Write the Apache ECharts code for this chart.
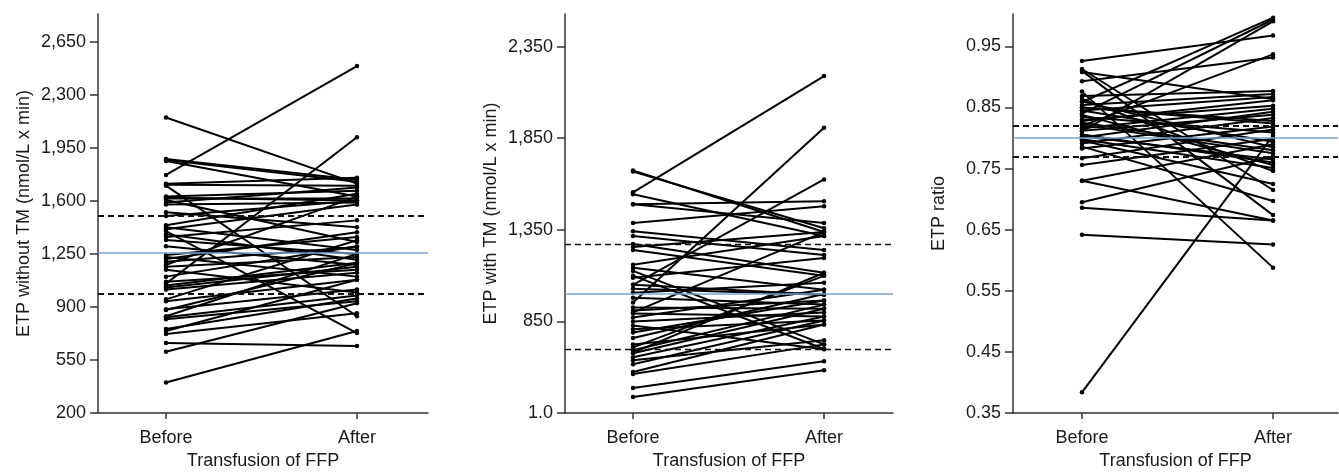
<!DOCTYPE html>
<html>
<head>
<meta charset="utf-8">
<script src="https://cdn.jsdelivr.net/npm/echarts@6/dist/echarts.min.js"></script>
<style>
html,body{margin:0;padding:0;background:#fff;}
#chart{width:1339px;height:475px;}
</style>
</head>
<body>
<div id="chart"></div>
<script>
// ---- Data ----
const xCategories = ['Before', 'After'];
const xTitle = 'Transfusion of FFP';

// Panel 1: ETP without TM
const p1Name = 'ETP without TM (nmol/L x min)';
const p1Ticks = [200, 550, 900, 1250, 1600, 1950, 2300, 2650];
const p1Before = [2149,1876,1869,1863,1771,1713,1706,1628,1621,1615,1606,1589,1576,1524,1439,1426,1413,1380,1361,1341,1243,1230,1217,1198,1178,1165,1145,1067,1054,1041,1028,1015,937,885,839,832,819,754,741,722,663,604,402,1400,1300,1100,950,880,1500,1700];
const p1After  = [1713,1739,1726,1628,2489,1752,1700,1667,1602,1615,1328,1687,1589,1426,1647,1276,1576,1211,1471,1250,1361,1100,1393,1295,1628,1230,995,1145,2019,1191,1165,1126,1080,1015,1250,976,937,956,1080,859,643,924,741,728,1176,1300,1340,1190,1600,839];
const p1Ref = {mean: 1255, low: 985, high: 1500};

// Panel 2: ETP with TM
const p2Name = 'ETP with TM (nmol/L x min)';
const p2Ticks = [350, 850, 1350, 1850, 2350];
const p2Before = [1674,1668,1555,1544,1490,1490,1387,1343,1316,1273,1257,1240,1159,1143,1126,1088,1050,1029,1007,980,953,926,910,893,872,850,828,807,790,725,709,693,677,655,639,617,574,563,487,438,1100,1050,900,760,680];
const p2After  = [1338,1359,2189,1316,1506,1387,1479,1240,1213,1116,1338,1099,1316,1023,725,1197,1625,996,1061,942,1907,920,964,877,1023,899,698,855,964,834,1099,942,920,877,747,855,834,725,633,584,700,996,1338,1000,1116];
const p2Ref = {mean: 1000, low: 699, high: 1274};

// Panel 3: ETP ratio
const p3Name = 'ETP ratio';
const p3Ticks = [0.35, 0.45, 0.55, 0.65, 0.75, 0.85, 0.95];
const p3Before = [0.926,0.913,0.910,0.908,0.893,0.876,0.869,0.864,0.859,0.854,0.850,0.845,0.840,0.835,0.830,0.825,0.820,0.816,0.811,0.806,0.801,0.796,0.791,0.786,0.783,0.767,0.756,0.730,0.730,0.695,0.686,0.642,0.384,0.845,0.838,0.822,0.812,0.803,0.798,0.850,0.860,0.828];
const p3After  = [0.968,0.715,0.674,0.864,0.932,0.588,0.877,0.746,0.997,0.872,0.828,0.867,0.994,0.809,0.853,0.780,0.937,0.848,0.991,0.760,0.843,0.725,0.833,0.697,0.819,0.814,0.799,0.790,0.665,0.770,0.665,0.626,0.804,0.794,0.756,0.775,0.838,0.765,0.751,0.824,0.785,0.862];
const p3Ref = {mean: 0.801, low: 0.772, high: 0.824};

// ---- Build ----
const FONT = '"Liberation Sans", Arial, sans-serif';
const TXT = '#1a1a1a';
const AX = '#333';

const panels = [
  {name: p1Name, ticks: p1Ticks, before: p1Before, after: p1After, ref: p1Ref,
   left: 98, width: 330, xmin: -0.356, xmax: 1.372, ymin: 200, ymax: 2832, dashW: 2.2,
   fmt: v => v.toLocaleString('en-US')},
  {name: p2Name, ticks: p2Ticks, before: p2Before, after: p2After, ref: p2Ref,
   left: 565, width: 328, xmin: -0.356, xmax: 1.361, ymin: 350, ymax: 2528, dashW: 1.4,
   fmt: v => v === 350 ? '1.0' : v.toLocaleString('en-US')},
  {name: p3Name, ticks: p3Ticks, before: p3Before, after: p3After, ref: p3Ref,
   left: 1013, width: 325, xmin: -0.361, xmax: 1.340, ymin: 0.35, ymax: 1.003, dashW: 2.2,
   fmt: v => v.toFixed(2)}
];

const grid = [], xAxis = [], yAxis = [], series = [];
panels.forEach((p, i) => {
  grid.push({left: p.left, top: 14, width: p.width, height: 405, containLabel: false});
  xAxis.push({
    type: 'value', gridIndex: i, min: p.xmin, max: p.xmax,
    name: xTitle, nameLocation: 'middle', nameGap: 38,
    nameTextStyle: {fontFamily: FONT, fontSize: 18, color: TXT},
    axisLine: {show: true, onZero: false, lineStyle: {color: AX, width: 1.5}},
    axisTick: {show: true, customValues: [0, 1], length: 6, lineStyle: {color: AX, width: 1.5}},
    axisLabel: {customValues: [0, 1], formatter: v => xCategories[Math.round(v)],
      fontFamily: FONT, fontSize: 18, color: TXT, margin: 16},
    splitLine: {show: false}
  });
  yAxis.push({
    type: 'value', gridIndex: i, min: p.ymin, max: p.ymax,
    name: p.name, nameLocation: 'middle', nameGap: 65, nameRotate: 90,
    nameTextStyle: {fontFamily: FONT, fontSize: 18, color: TXT},
    axisLine: {show: true, onZero: false, lineStyle: {color: AX, width: 1.5}},
    axisTick: {show: true, customValues: p.ticks, length: 8, lineStyle: {color: AX, width: 1.5}},
    axisLabel: {customValues: p.ticks, formatter: p.fmt,
      fontFamily: FONT, fontSize: 18, color: TXT, margin: 12},
    splitLine: {show: false}
  });
  // reference lines
  series.push({
    type: 'line', xAxisIndex: i, yAxisIndex: i, data: [], silent: true,
    markLine: {
      symbol: ['none', 'none'], silent: true, label: {show: false}, animation: false,
      data: [
        {yAxis: p.ref.high, lineStyle: {color: '#111', width: p.dashW, type: [6, 4]}},
        {yAxis: p.ref.low, lineStyle: {color: '#111', width: p.dashW, type: [6, 4]}},
        {yAxis: p.ref.mean, lineStyle: {color: '#7ba3d4', width: 1.6, type: 'solid'}}
      ]
    }
  });
  p.before.forEach((b, k) => {
    series.push({
      type: 'line', xAxisIndex: i, yAxisIndex: i,
      data: [[0, b], [1, p.after[k]]],
      symbol: 'circle', symbolSize: 4.5, showSymbol: true,
      itemStyle: {color: '#000'},
      lineStyle: {color: '#000', width: 2},
      animation: false, silent: true, z: 3
    });
  });
});

const chart = echarts.init(document.getElementById('chart'), null, {renderer: 'canvas'});
chart.setOption({
  backgroundColor: '#fff',
  animation: false,
  grid, xAxis, yAxis, series
});
</script>
</body>
</html>
